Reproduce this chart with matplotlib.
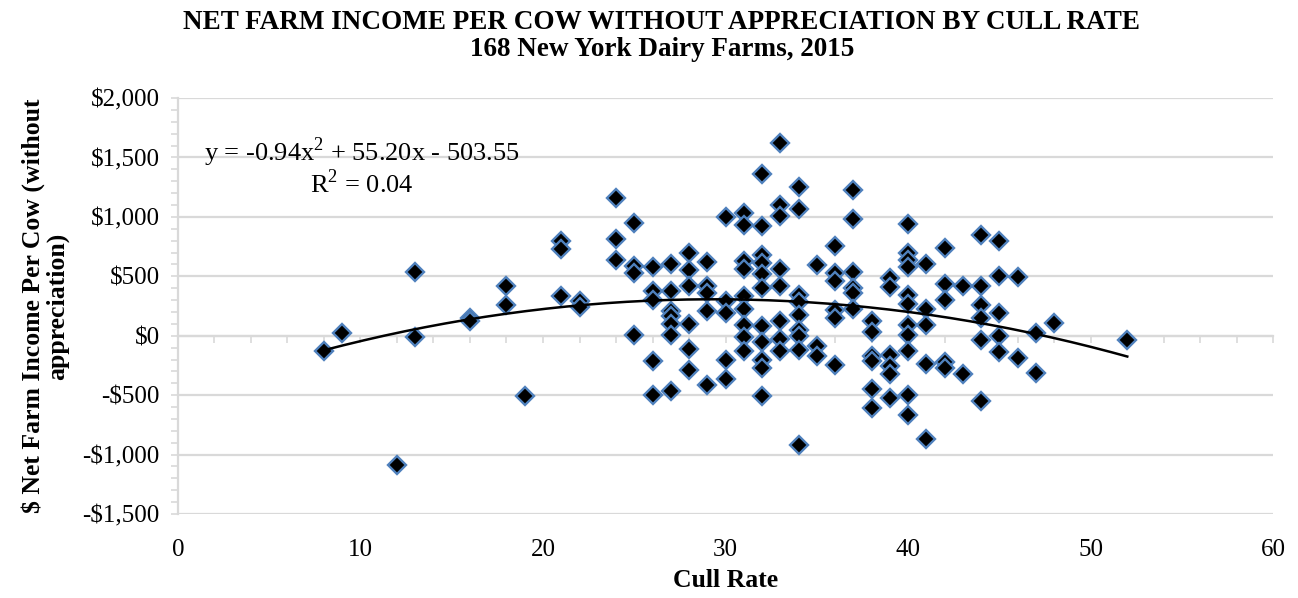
import numpy as np
import matplotlib
matplotlib.use("Agg")
import matplotlib.pyplot as plt
from matplotlib.ticker import MultipleLocator, FuncFormatter

# ---------------------------------------------------------------------------
# DATA
# ---------------------------------------------------------------------------
cull_rate = (
    [8, 9, 12, 13, 13, 16, 16, 18, 18, 19, 21, 21, 21, 22, 22]
    + [24] * 3 + [25] * 4 + [26] * 5 + [27] * 7 + [28] * 6 + [29] * 5
    + [30] * 5 + [31] * 9 + [32] * 11 + [33] * 8 + [34] * 9 + [35] * 3
    + [36] * 6 + [37] * 6 + [38] * 6 + [39] * 6 + [40] * 11 + [41] * 5
    + [42] * 5 + [43] * 2 + [44] * 6 + [45] * 5 + [46] * 2 + [47] * 2
    + [48, 52]
)
net_income = [
    -130, 20, -1086, 540, -10, 150, 120, 415, 260, -505, 794, 730, 335, 290, 240,
    1160, 814, 640,
    945, 584, 528, 8,
    575, 373, 300, -210, -500,
    602, 373, 205, 163, 100, 8, -469,
    700, 553, 418, 95, -112, -286,
    617, 415, 359, 205, -418,
    995, 296, 191, -205, -360,
    1030, 930, 633, 558, 334, 226, 88, -10, -128,
    1362, 926, 677, 614, 518, 401, 84, -52, -205, -268, -511,
    1620, 1103, 1004, 565, 415, 121, -27, -128,
    1249, 1067, 341, 282, 177, 51, 0, -121, -918,
    594, -90, -174,
    758, 528, 457, 219, 149, -244,
    1229, 983, 533, 401, 357, 222,
    121, 28, -174, -216, -449, -609,
    485, 412, -160, -251, -324, -520,
    938, 693, 640, 581, 341, 265, 88, 8, -128, -497, -665,
    602, 221, 93, -240, -865,
    742, 436, 303, -223, -272,
    415, -320,
    850, 415, 261, 149, -34, -553,
    794, 505, 191, 0, -140,
    491, -188,
    22, -314,
    107, -34,
]

# trendline shown on the chart: y = -0.94x^2 + 55.20x - 503.55
trend_coef = [-0.94, 55.20, -503.55]
trend_label = "y = -0.94x$^2$ + 55.20x - 503.55\nR$^2$ = 0.04"

title = "NET FARM INCOME PER COW WITHOUT APPRECIATION BY CULL RATE\n168 New York Dairy Farms, 2015"
x_label = "Cull Rate"
y_label = "$ Net Farm Income Per Cow (without\nappreciation)"

# ---------------------------------------------------------------------------
# PLOT
# ---------------------------------------------------------------------------
plt.rcParams["font.family"] = ["Liberation Serif", "DejaVu Serif"]
plt.rcParams["mathtext.fontset"] = "custom"
plt.rcParams["mathtext.rm"] = "Liberation Serif"

grid_col = "#D9D9D9"
fig = plt.figure(figsize=(12.98, 5.98), dpi=100)
ax = fig.add_axes([0.137, 0.1405, 0.844, 0.6955])

xs = np.array(cull_rate)
ys = np.array(net_income)
ax.plot(xs, ys, linestyle="none", marker="D", markersize=9.5,
        markerfacecolor="black", markeredgecolor="#4F81BD",
        markeredgewidth=1.7, zorder=3)

xt = np.linspace(xs.min(), xs.max(), 200)
ax.plot(xt, np.polyval(trend_coef, xt), color="black", linewidth=1.8, zorder=4)

ax.text(0.168, 0.835, trend_label, transform=ax.transAxes, ha="center",
        va="center", fontsize=19, multialignment="center", linespacing=1.0)

ax.set_xlim(0, 60)
ax.set_ylim(-1500, 2000)
ax.xaxis.set_major_locator(MultipleLocator(10))
ax.yaxis.set_major_locator(MultipleLocator(500))
ax.yaxis.set_minor_locator(MultipleLocator(100))
ax.yaxis.set_major_formatter(FuncFormatter(
    lambda v, p: f"-${abs(v):,.0f}" if v < 0 else f"${v:,.0f}"))

ax.grid(axis="y", color=grid_col, linewidth=1.6, zorder=0)
ax.set_axisbelow(True)
for s in ["top", "right", "bottom"]:
    ax.spines[s].set_visible(False)
ax.spines["left"].set_color(grid_col)
ax.spines["left"].set_linewidth(1.6)

ax.tick_params(axis="x", length=0, labelsize=18, pad=18)
ax.tick_params(axis="y", which="both", length=5, color=grid_col, width=1.2,
               labelsize=18, pad=8)

# horizontal axis crossing at zero, ticks every 2
y0 = (0 - ax.get_ylim()[0]) / (ax.get_ylim()[1] - ax.get_ylim()[0])
sec = ax.secondary_xaxis(y0)
sec.xaxis.set_major_locator(MultipleLocator(2))
sec.tick_params(axis="x", direction="out", length=5, color=grid_col, width=1.2,
                labelbottom=False, labeltop=False)
sec.spines["bottom"].set_color(grid_col)
sec.spines["bottom"].set_linewidth(1.6)
sec.spines["top"].set_visible(False)

ax.set_xlabel(x_label, fontsize=18.5, fontweight="bold", labelpad=6)
ax.set_ylabel(y_label, fontsize=18.5, fontweight="bold", labelpad=10,
              multialignment="center", linespacing=1.0)
fig.text(0.51, 0.984, title, ha="center", va="top", fontsize=19.5,
         fontweight="bold", linespacing=1.15)

fig.savefig("out.png", dpi=100)
